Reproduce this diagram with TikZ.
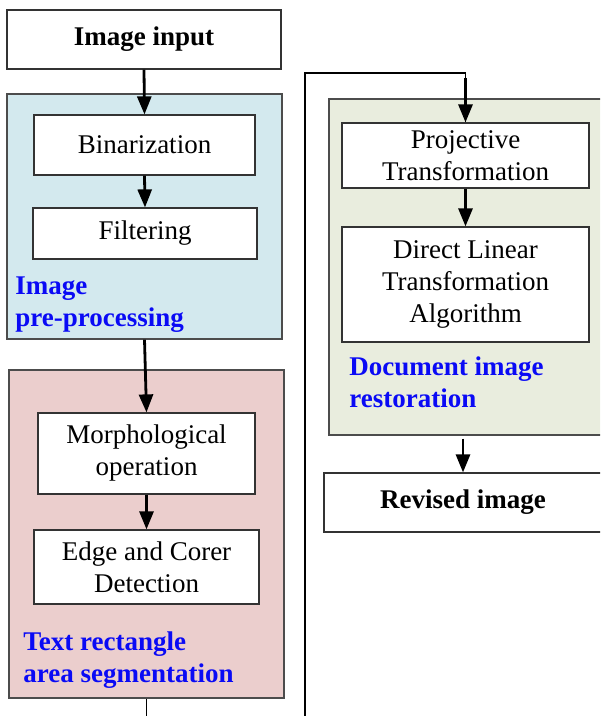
\documentclass[tikz,border=0pt]{standalone}
\usepackage{fontspec}
\setmainfont{Liberation Serif}
\usetikzlibrary{arrows.meta}
\definecolor{panelblue}{RGB}{211,233,238}
\definecolor{panelpink}{RGB}{235,206,205}
\definecolor{panelgreen}{RGB}{233,237,222}
\definecolor{labelblue}{RGB}{10,10,245}
\tikzset{
  box/.style={draw=black!80, fill=white, line width=0.6pt, inner sep=0pt,
    font=\fontsize{13.5}{16}\selectfont, align=center},
  boldbox/.style={box, font=\bfseries\fontsize{13.5}{16}\selectfont},
  panel/.style={draw=black!70, line width=0.6pt, inner sep=0pt},
  plabel/.style={text=labelblue, font=\bfseries\fontsize{13.5}{16}\selectfont,
    align=left, inner sep=0pt, anchor=base west},
  conn/.style={line width=1.4pt, -{Triangle[length=9pt,width=7pt]}},
  wire/.style={line width=0.9pt}
}
\begin{document}
\begin{tikzpicture}[x=0.5pt,y=-0.5pt]
\useasboundingbox (0,0) rectangle (600,716);
\clip (0,0) rectangle (600,716);
% panels
\node[panel, fill=panelblue, minimum width=137.5pt, minimum height=122.5pt] (blue) at (144.5,216.5) {};
\node[panel, fill=panelpink, minimum width=137.5pt, minimum height=164pt] (pink) at (146.5,534) {};
\node[panel, fill=panelgreen, minimum width=137.5pt, minimum height=168pt] (green) at (466.5,267) {};
% boxes
\node[boldbox, minimum width=137pt, minimum height=29.5pt] (input) at (144,39.5) {Image input};
\node[box, minimum width=110.5pt, minimum height=30pt] (bin) at (144.5,145) {Binarization};
\node[box, minimum width=112pt, minimum height=25.5pt] (filt) at (145,233.5) {Filtering};
\node[box, minimum width=108.5pt, minimum height=40.5pt] (morph) at (146.5,453.5) {Morphological\\operation};
\node[box, minimum width=112.5pt, minimum height=37pt] (edge) at (146.5,567) {Edge and Corer\\Detection};
\node[box, minimum width=123.5pt, minimum height=32.5pt] (proj) at (465.5,155.5) {Projective\\Transformation};
\node[box, minimum width=123.5pt, minimum height=57.5pt] (dlt) at (465.5,284.5) {Direct Linear\\Transformation\\Algorithm};
\node[boldbox, minimum width=139pt, minimum height=29.5pt] (rev) at (463,502.5) {Revised image};
% labels (anchor = baseline of last line)
\node[plabel] (lblue) at (15,326) {Image\\pre-processing};
\node[plabel] (lpink) at (23,682) {Text rectangle\\area segmentation};
\node[plabel] (lgreen) at (349,407) {Document image\\restoration};
% connectors
\coordinate (pend) at (146.5,720);
\coordinate (lbot) at (305,720);
\coordinate (turn) at (305,73);
\draw[conn] (input.south) -- (bin.north);
\draw[conn] (bin.south) -- (filt.north);
\draw[conn] (blue.south) -- (morph.north);
\draw[conn] (morph.south) -- (edge.north);
\draw[wire] (pink.south) -- (pend);
\draw[wire] (lbot) -- (turn) -| (proj.north);
\draw[conn] ([yshift=-2.5pt]proj.north |- turn) -- (proj.north);
\draw[conn] (proj.south) -- (dlt.north);
\draw[conn, shorten <=1.5pt] (green.south -| rev.north) -- (rev.north);
\end{tikzpicture}
\end{document}
